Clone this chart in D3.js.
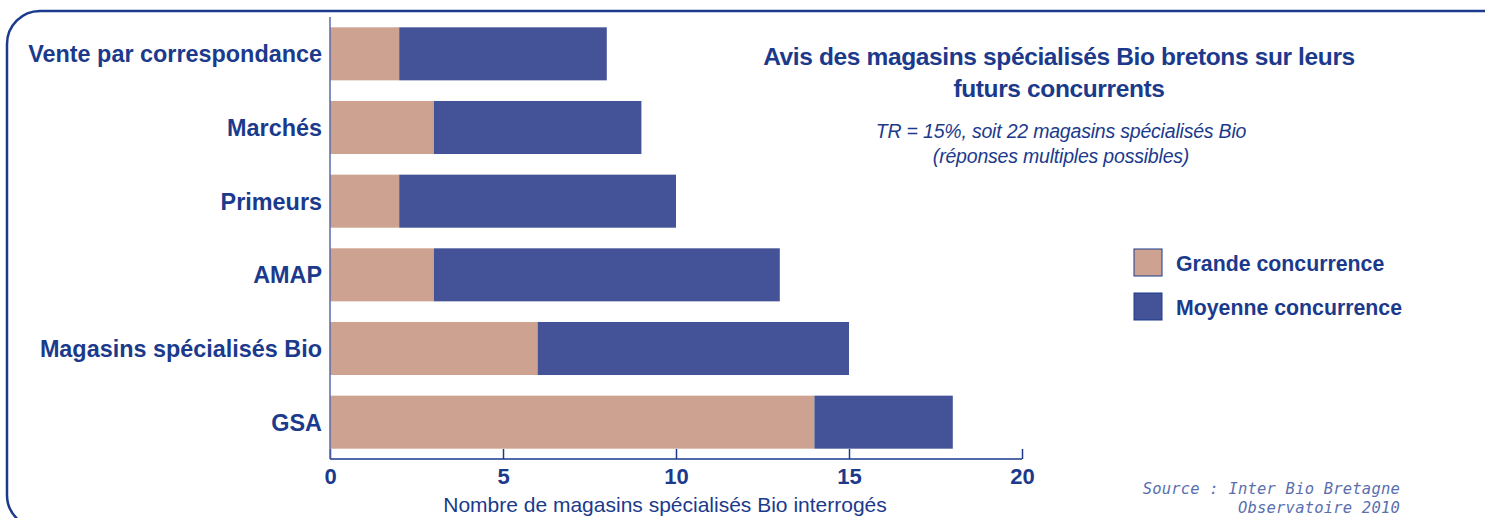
<!DOCTYPE html>
<html>
<head>
<meta charset="utf-8">
<script src="https://cdn.jsdelivr.net/npm/d3@7"></script>
<style>
  body { margin: 0; background: #fff; }
  svg text { font-family: "Liberation Sans", Arial, sans-serif; }
</style>
</head>
<body>
<div id="chart"></div>
<script>
// data
const categories = ["Vente par correspondance", "Marchés", "Primeurs", "AMAP", "Magasins spécialisés Bio", "GSA"];
const grande = [2, 3, 2, 3, 6, 14];
const moyenne = [6, 6, 8, 10, 9, 4];
const seriesNames = ["Grande concurrence", "Moyenne concurrence"];
const xTicks = [0, 5, 10, 15, 20];

const W = 1485, H = 518;
const navy = "#1b3a8c";
const colors = ["#cea290", "#445397"];

const svg = d3.select("#chart").append("svg")
  .attr("width", W).attr("height", H);

/* rounded frame, runs off the right and bottom edges */
svg.append("rect")
  .attr("x", 7).attr("y", 11)
  .attr("width", 1540).attr("height", 517)
  .attr("rx", 33).attr("ry", 33)
  .attr("fill", "none")
  .attr("stroke", navy)
  .attr("stroke-width", 2.5);

const x = d3.scaleLinear().domain([0, 20]).range([330, 1022]);
const y = d3.scaleBand().domain(categories).range([17, 459]).paddingInner(0.28).paddingOuter(0.14);

const rows = categories.map((c, i) => ({cat: c, Grande: grande[i], Moyenne: moyenne[i]}));
const stacked = d3.stack().keys(["Grande", "Moyenne"])(rows);

svg.selectAll(".layer")
  .data(stacked)
  .join("g")
    .attr("class", "layer")
    .attr("fill", (d, i) => colors[i])
  .selectAll("rect")
  .data(d => d)
  .join("rect")
    .attr("x", d => x(d[0]))
    .attr("y", d => y(d.data.cat))
    .attr("width", d => x(d[1]) - x(d[0]))
    .attr("height", y.bandwidth());

/* x axis, ticks pointing up */
const xAxis = svg.append("g")
  .attr("transform", "translate(0,459)")
  .call(d3.axisTop(x).tickValues(xTicks).tickSize(10).tickFormat(d3.format("d")));
xAxis.select(".domain").attr("d", "M330,0H1022").attr("stroke", navy).attr("stroke-width", 1.5);
xAxis.selectAll(".tick line").attr("stroke", navy).attr("stroke-width", 1.5);
xAxis.selectAll(".tick text")
  .attr("y", 25).attr("dy", 0)
  .attr("fill", navy)
  .style("font-size", "22px").style("font-weight", "bold");

/* y axis line */
svg.append("line")
  .attr("x1", 330).attr("x2", 330).attr("y1", 17).attr("y2", 459)
  .attr("stroke", "#5a6aa8").attr("stroke-width", 1.5);

/* category labels */
svg.selectAll(".cat")
  .data(categories)
  .join("text")
    .attr("class", "cat")
    .attr("x", 322)
    .attr("y", d => y(d) + y.bandwidth() / 2)
    .attr("dy", "0.36em")
    .attr("text-anchor", "end")
    .attr("fill", navy)
    .style("font-size", "23.4px").style("font-weight", "bold")
    .text(d => d);

/* axis title */
svg.append("text")
  .attr("x", 665).attr("y", 512)
  .attr("text-anchor", "middle")
  .attr("fill", navy)
  .style("font-size", "21px")
  .text("Nombre de magasins spécialisés Bio interrogés");

/* title + subtitle */
const title = svg.append("text")
  .attr("text-anchor", "middle")
  .attr("fill", navy)
  .style("font-size", "24.5px").style("font-weight", "bold")
  .style("letter-spacing", "-0.37px");
title.append("tspan").attr("x", 1059).attr("y", 65).text("Avis des magasins spécialisés Bio bretons sur leurs");
title.append("tspan").attr("x", 1059).attr("y", 97).text("futurs concurrents");

const sub = svg.append("text")
  .attr("text-anchor", "middle")
  .attr("fill", navy)
  .style("font-size", "19.5px").style("font-style", "italic")
  .style("letter-spacing", "-0.2px");
sub.append("tspan").attr("x", 1061).attr("y", 138).text("TR = 15%, soit 22 magasins spécialisés Bio");
sub.append("tspan").attr("x", 1061).attr("y", 163).text("(réponses multiples possibles)");

/* legend */
const leg = svg.selectAll(".leg")
  .data(seriesNames)
  .join("g")
    .attr("class", "leg")
    .attr("transform", (d, i) => `translate(1134,${249 + i * 44})`);
leg.append("rect")
  .attr("width", 28).attr("height", 27)
  .attr("fill", (d, i) => colors[i])
  .attr("stroke", navy).attr("stroke-width", 1);
leg.append("text")
  .attr("x", 42).attr("y", 14).attr("dy", "0.36em")
  .attr("fill", navy)
  .style("font-size", "21.3px").style("font-weight", "bold")
  .text(d => d);

/* source */
const src = svg.append("text")
  .attr("text-anchor", "end")
  .attr("fill", "#5a6fae")
  .style("font-family", "'DejaVu Sans Mono', monospace")
  .style("font-size", "15.5px").style("font-style", "italic")
  .style("letter-spacing", "0.2px");
src.append("tspan").attr("x", 1400).attr("y", 494).text("Source : Inter Bio Bretagne");
src.append("tspan").attr("x", 1400).attr("y", 513).text("Observatoire 2010");
</script>
</body>
</html>
